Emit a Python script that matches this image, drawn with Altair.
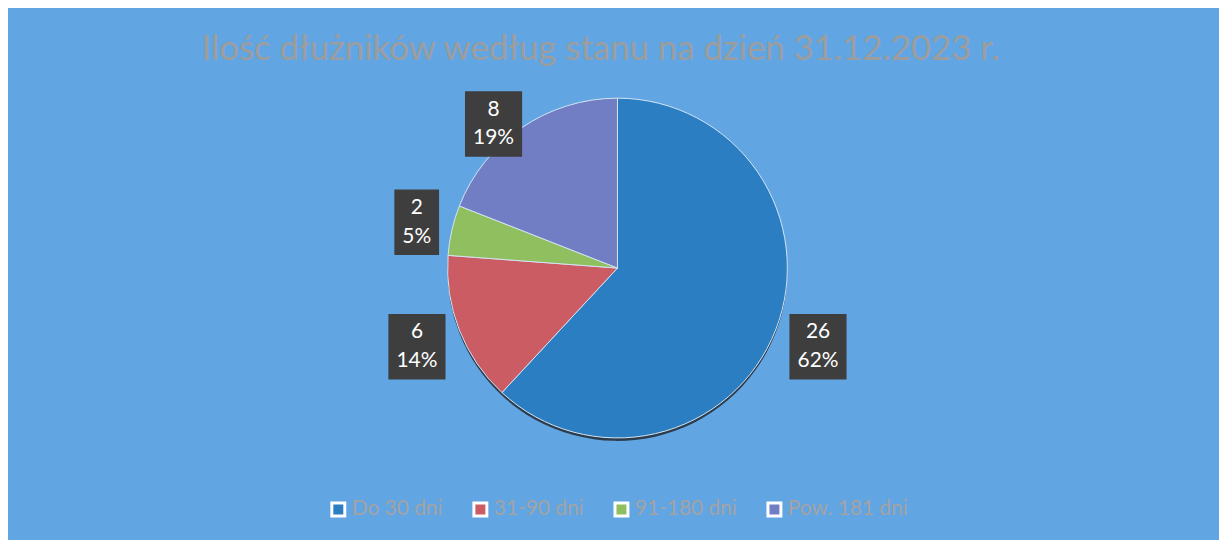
import altair as alt
import pandas as pd

# ---- data ----
categories = ["Do 30 dni", "31-90 dni", "91-180 dni", "Pow. 181 dni"]
counts = [26, 6, 2, 8]
colors = ["#2a7ec1", "#cc5c64", "#8fbf5e", "#727ec4"]
title_text = "Ilość dłużników według stanu na dzień 31.12.2023 r."

df = pd.DataFrame({
    "kategoria": categories,
    "liczba": counts,
    "idx": list(range(len(categories))),
})

# ---- layout constants ----
PAD_L = 8
W = 1219 - PAD_L
H = 356
R = 171          # pie radius
GAP = 178        # distance from centre to nearest corner of a label box
HH = 33          # half height of a label box
BG = "#62a5e3"
FONT = "Lato"
LH = 29

xs = alt.Scale(domain=[-W / 2, W / 2], nice=False, zero=False)
ys = alt.Scale(domain=[-H / 2, H / 2], nice=False, zero=False)

base = (
    alt.Chart(df)
    .transform_joinaggregate(total="sum(liczba)")
    .transform_window(cum="sum(liczba)", sort=[alt.SortField("idx")], frame=[None, 0])
    .transform_calculate(
        pct="format(datum.liczba / datum.total, '.0%')",
        lbl="datum.liczba + '\\n' + datum.pct",
        mid="(datum.cum - datum.liczba / 2) / datum.total * 2 * PI",
    )
    .transform_calculate(
        bw="20 + 12.5 * max(length(datum.liczba + ''), length(datum.pct))",
    )
    .transform_calculate(
        rr=f"{GAP} + datum.bw / 2 * abs(sin(datum.mid)) + {HH} * abs(cos(datum.mid))",
    )
    .transform_calculate(
        lx="sin(datum.mid) * datum.rr",
        ly=f"min(cos(datum.mid) * datum.rr, {H / 2 - HH})",
    )
    .transform_calculate(
        bx1="datum.lx - datum.bw / 2",
        bx2="datum.lx + datum.bw / 2",
        by1=f"datum.ly - {HH}",
        by2=f"datum.ly + {HH}",
    )
)

theta = alt.Theta("liczba:Q", stack=True)
order = alt.Order("idx:Q")

color = alt.Color(
    "kategoria:N",
    scale=alt.Scale(domain=categories, range=colors),
    sort=categories,
    legend=alt.Legend(
        title=None,
        orient="none",
        direction="horizontal",
        legendX=314,
        legendY=410,
        symbolType="square",
        symbolSize=170,
        symbolStrokeColor="white",
        symbolStrokeWidth=3,
        symbolOpacity=1,
        labelFont=FONT,
        labelFontSize=21,
        labelColor="#a3a3a3",
        columnPadding=24,
        labelOffset=3,
    ),
)

shadow = base.mark_arc(radius=R, yOffset=3, color="#2d3c4c").encode(theta=theta, order=order)
pie = base.mark_arc(radius=R, stroke="#d4e4f3", strokeWidth=1).encode(
    theta=theta, order=order, color=color
)
boxes = base.mark_rect(color="#3e3e3e").encode(
    x=alt.X("bx1:Q", scale=xs, axis=None),
    x2="bx2:Q",
    y=alt.Y("by1:Q", scale=ys, axis=None),
    y2="by2:Q",
)
labels = base.mark_text(
    lineBreak="\n", color="white", font=FONT, fontSize=21, lineHeight=LH,
    align="center", baseline="middle", dy=-LH / 2,
).encode(
    x=alt.X("lx:Q", scale=xs, axis=None),
    y=alt.Y("ly:Q", scale=ys, axis=None),
    text="lbl:N",
)

chart = (
    alt.layer(shadow, pie, boxes, labels)
    .properties(
        width=W,
        height=H,
        background=BG,
        padding={"left": PAD_L, "right": 0, "top": 82, "bottom": 94},
        autosize=alt.AutoSizeParams(type="none"),
        title=alt.TitleParams(
            text=title_text,
            font=FONT,
            fontSize=35,
            fontWeight="normal",
            color="#9d9d9d",
            anchor="middle",
            frame="group",
            baseline="alphabetic",
            offset=31,
            dx=-17,
            dy=35,
        ),
    )
    .configure_view(strokeWidth=0)
)

chart.save("out.html", embed_options={"renderer": "svg", "actions": False})
